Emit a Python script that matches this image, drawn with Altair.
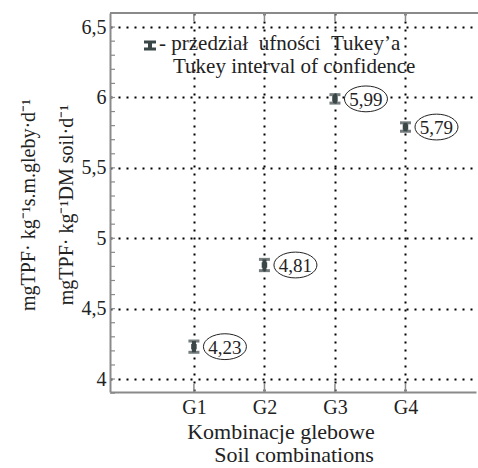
import altair as alt
import pandas as pd

groups = [1, 2, 3, 4]
means = [4.23, 4.81, 5.99, 5.79]
lower = [4.19, 4.77, 5.96, 5.76]
upper = [4.27, 4.85, 6.02, 5.82]
mean_labels = ["4,23", "4,81", "5,99", "5,79"]
y_ticks = [4, 4.5, 5, 5.5, 6, 6.5]
minor_ticks = [round(3.9 + 0.1 * i, 1) for i in range(28)]

W, H = 366, 379
FONT = "Liberation Serif"
BAR = "#3b4647"
AX = "#8a8a8a"

df = pd.DataFrame({"g": groups, "m": means, "lo": lower, "hi": upper, "lab": mean_labels})
ticks_df = pd.DataFrame({"v": minor_ticks})

xs = alt.Scale(domain=[-0.19, 5.0], nice=False, zero=False)
ys = alt.Scale(domain=[3.908, 6.6], nice=False, zero=False)

xenc = alt.X("g:Q", scale=xs, axis=alt.Axis(
    values=groups, labelExpr="'G' + datum.value", title=None,
    labelFont=FONT, labelFontSize=20, labelColor="#222", labelPadding=5,
    tickSize=0, domainColor=AX, domainWidth=2,
    grid=True, gridColor="#000", gridDash=[2, 6], gridWidth=2, gridOpacity=1))
yenc = alt.Y("m:Q", scale=ys, axis=alt.Axis(
    values=y_ticks, labelExpr="replace(format(datum.value, '~g'), '.', ',')",
    title=None, labelFont=FONT, labelFontSize=20, labelColor="#222",
    labelPadding=4, tickSize=0, domainColor=AX, domainWidth=2,
    grid=True, gridColor="#000", gridDash=[2, 6], gridWidth=2, gridOpacity=1))

base = alt.Chart(df)

grid_layer = base.mark_point(opacity=0).encode(x=xenc, y=yenc)

bars = base.mark_rule(color=BAR, strokeWidth=4).encode(
    x=alt.X("g:Q", scale=xs), y=alt.Y("lo:Q", scale=ys), y2="hi:Q")
cap_hi = base.mark_tick(color=BAR, thickness=3, size=11, orient="horizontal").encode(
    x=alt.X("g:Q", scale=xs), y=alt.Y("hi:Q", scale=ys))
cap_lo = base.mark_tick(color=BAR, thickness=3, size=11, orient="horizontal").encode(
    x=alt.X("g:Q", scale=xs), y=alt.Y("lo:Q", scale=ys))
center = base.mark_point(shape="square", filled=True, color=BAR, size=30, opacity=1).encode(
    x=alt.X("g:Q", scale=xs), y=alt.Y("m:Q", scale=ys))

ellipse_path = "M -1 0 A 1 0.6 0 1 1 1 0 A 1 0.6 0 1 1 -1 0 Z"
ellipses = base.mark_point(shape=ellipse_path, size=1850, filled=True, fill="white",
                           stroke="#222", strokeWidth=1, opacity=1, fillOpacity=1,
                           xOffset=31).encode(
    x=alt.X("g:Q", scale=xs), y=alt.Y("m:Q", scale=ys))
elabels = base.mark_text(font=FONT, fontSize=19, color="#222", dx=31, dy=1,
                         align="center", baseline="middle").encode(
    x=alt.X("g:Q", scale=xs), y=alt.Y("m:Q", scale=ys), text="lab:N")

minor = alt.Chart(ticks_df).mark_rule(color=AX, strokeWidth=1.2).encode(
    y=alt.Y("v:Q", scale=ys), x=alt.value(0), x2=alt.value(5))
top_line = alt.Chart(df).mark_rule(color=AX, strokeWidth=2).encode(
    x=alt.value(0), x2=alt.value(W + 2), y=alt.value(0))
top_ticks = base.mark_rule(color=AX, strokeWidth=1.5).encode(
    x=alt.X("g:Q", scale=xs), y=alt.value(0), y2=alt.value(8))
bot_ticks = base.mark_rule(color=AX, strokeWidth=1.5).encode(
    x=alt.X("g:Q", scale=xs), y=alt.value(H - 8), y2=alt.value(H))

one = pd.DataFrame({"t": ["x"]})

def txt(s, x, y, size=19, align="left", angle=0):
    return alt.Chart(one).mark_text(font=FONT, fontSize=size, color="#222", align=align,
                                    baseline="alphabetic", angle=angle, text=s).encode(
        x=alt.value(x), y=alt.value(y))

NB = "\u00a0"
leg_l1 = txt("-" + NB + "przedział" + NB + NB + "ufności" + NB + NB + "Tukey’a", 49, 37, 21)
leg_l2 = txt("Tukey interval of confidence", 63, 60, 21)
leg_bar = alt.Chart(one).mark_rule(color=BAR, strokeWidth=4).encode(
    x=alt.value(40), y=alt.value(28), y2=alt.value(37))
leg_c1 = alt.Chart(one).mark_rule(color=BAR, strokeWidth=3).encode(
    x=alt.value(34), x2=alt.value(46), y=alt.value(29))
leg_c2 = alt.Chart(one).mark_rule(color=BAR, strokeWidth=3).encode(
    x=alt.value(34), x2=alt.value(46), y=alt.value(36))

xt1 = txt("Kombinacje glebowe", 171, 426, 22, "center")
xt2 = txt("Soil combinations", 184, 449, 22, "center")
yt1 = txt("mgTPF· kg⁻¹s.m.gleby·d⁻¹", -75, 192, 20, "center", 270)
yt2 = txt("mgTPF· kg⁻¹DM soil·d⁻¹", -37, 192, 20, "center", 270)

chart = alt.layer(
    grid_layer, minor, top_line, top_ticks, bot_ticks,
    bars, cap_hi, cap_lo, center, ellipses, elabels,
    leg_bar, leg_c1, leg_c2, leg_l1, leg_l2, xt1, xt2, yt1, yt2,
).properties(
    width=W, height=H,
    autosize=alt.AutoSizeParams(type="none"),
    padding={"left": 110, "top": 13, "right": 2, "bottom": 76},
    background="white",
).configure_view(stroke=None)

chart.save("out.html", embed_options={"renderer": "svg", "actions": False})
